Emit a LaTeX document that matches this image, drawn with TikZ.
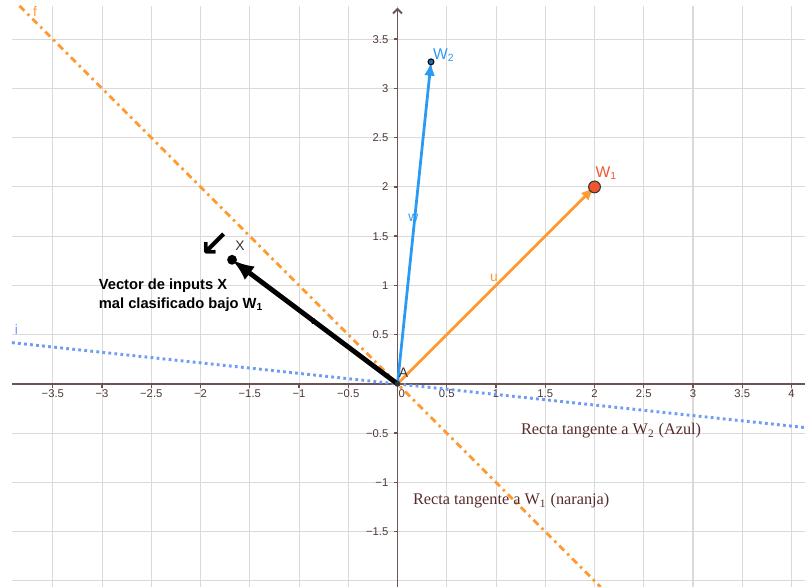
\documentclass[tikz,border=0pt]{standalone}
\usepackage{fontspec}
\usetikzlibrary{arrows.meta}
\newfontfamily\ggbsans{Liberation Sans}
\newfontfamily\ggbserif{Liberation Serif}
\newfontfamily\ggbsym{DejaVu Sans}
\definecolor{gridgray}{HTML}{DADADA}
\definecolor{axisbrown}{HTML}{6F5252}
\definecolor{ticktext}{HTML}{4E3636}
\definecolor{ggborange}{HTML}{FF9B33}
\definecolor{pointred}{HTML}{F0562E}
\definecolor{ggbblue}{HTML}{2B9AF3}
\definecolor{dotblue}{HTML}{6E9CF5}
\definecolor{slabbrown}{HTML}{5A2B2B}
\definecolor{labelgray}{HTML}{333333}

\begin{document}
\begin{tikzpicture}[x=2cm,y=2cm,
  ticklabel/.style={font=\ggbsans\fontsize{6.5}{7}\selectfont,text=ticktext,inner sep=0pt},
  ptlabel/.style={font=\ggbsans\fontsize{9}{10}\selectfont,inner sep=0pt},
  smalllabel/.style={font=\ggbsans\fontsize{8}{9}\selectfont,inner sep=0pt},
  tanlabel/.style={anchor=base west,font=\ggbserif\fontsize{9.4}{11}\selectfont,text=slabbrown,inner sep=0pt},
  boldlabel/.style={anchor=base west,font=\ggbsans\bfseries\fontsize{8.5}{10}\selectfont,inner sep=0pt}]
\useasboundingbox (-4.036,-2.061) rectangle (4.137,3.898);
\begin{scope}
\clip (-3.914,-2.061) rectangle (4.137,3.838);
\draw[gridgray,line width=0.6pt,step=0.5] (-3.914,-2.061) grid (4.137,3.838);
\end{scope}
\draw[axisbrown,line width=1.1pt] (-3.914,0) -- (4.137,0);
\draw[axisbrown,line width=1.1pt,-{Straight Barb[length=0.9mm,width=1.8mm]}] (0,-2.061) -- (0,3.82);
\foreach \t in {-3.5,-3,...,4} \draw[axisbrown,line width=0.8pt] (\t,0) -- (\t,-0.04);
\foreach \t in {-1.5,-1,...,3.5} \draw[axisbrown,line width=0.8pt] (0,\t) -- (-0.04,\t);
\foreach \t/\s in {-3.5/−3.5,-3/−3,-2.5/−2.5,-2/−2,-1.5/−1.5,-1/−1,-0.5/−0.5,0.043/0,0.5/0.5,1/1,1.5/1.5,2/2,2.5/2.5,3/3,3.5/3.5,4/4}
  \node[ticklabel] at (\t,-0.10) {\s};
\foreach \t/\s in {-1.5/−1.5,-1/−1,-0.5/−0.5,0.5/0.5,1/1,1.5/1.5,2/2,2.5/2.5,3/3,3.5/3.5}
  \node[ticklabel,anchor=east] at (-0.09,\t) {\s};

\coordinate (A) at (0,0);
\coordinate (W1) at (2,2);
\coordinate (W2) at (0.34,3.27);
\coordinate (X) at (-1.68,1.26);

\draw[ggborange,line width=1.6pt,dash pattern=on 4pt off 2.5pt on 1.5pt off 2.5pt] (-3.838,3.838) -- (2.061,-2.061);
\draw[dotblue,line width=1.7pt,dash pattern=on 1.6pt off 1.9pt] (-3.914,0.419) -- (4.137,-0.443);

\draw[ggborange,line width=1.6pt,-{Latex[length=2.8mm,width=2.2mm]}] (A) -- (W1);
\draw[ggbblue,line width=1.6pt,-{Latex[length=2.8mm,width=2.2mm]}] (A) -- (W2);
\draw[black,line width=2.8pt,-{Latex[length=4.5mm,width=3.4mm]}] (A) -- (X);

\filldraw[fill=pointred,draw=black!80,line width=0.6pt] (W1) circle[radius=1.2mm];
\filldraw[fill=ggbblue!70!black,draw=black,line width=0.6pt] (W2) circle[radius=0.6mm];
\fill[black] (X) circle[radius=1mm];
\fill[labelgray] (A) circle[radius=0.6mm];

\node[ptlabel,text=pointred] (w1lab) at (2.12,2.14) {W\textsubscript{1}};
\node[ptlabel,text=ggbblue] (w2lab) at (0.47,3.34) {W\textsubscript{2}};
\node[smalllabel,text=ggborange] (ulab) at (0.98,1.08) {u};
\node[smalllabel,text=ggbblue] (wlab) at (0.16,1.69) {w};
\node[smalllabel,text=black,font=\ggbsans\fontsize{6}{7}\selectfont] (vlab) at (-0.86,0.63) {v};
\node[smalllabel,text=labelgray] (xlab) at (-1.60,1.40) {X};
\node[smalllabel,text=labelgray] (alab) at (0.06,0.11) {A};
\node[smalllabel,text=ggborange] (flab) at (-3.68,3.78) {f};
\node[smalllabel,text=dotblue] (ilab) at (-3.87,0.55) {i};
\node[inner sep=0pt,font=\ggbsym\bfseries\fontsize{21}{21}\selectfont] (pointer) at (-1.856,1.416) {↙};

\node[boldlabel] (xtext1) at (-3.036,0.96) {Vector de inputs X};
\node[boldlabel] (xtext2) at (-3.036,0.77) {mal clasificado bajo W\textsubscript{1}};
\node[tanlabel] (tanw2) at (1.251,-0.518) {Recta tangente a W\textsubscript{2} (Azul)};
\node[tanlabel] (tanw1) at (0.154,-1.228) {Recta tangente a W\textsubscript{1} (naranja)};
\end{tikzpicture}
\end{document}
